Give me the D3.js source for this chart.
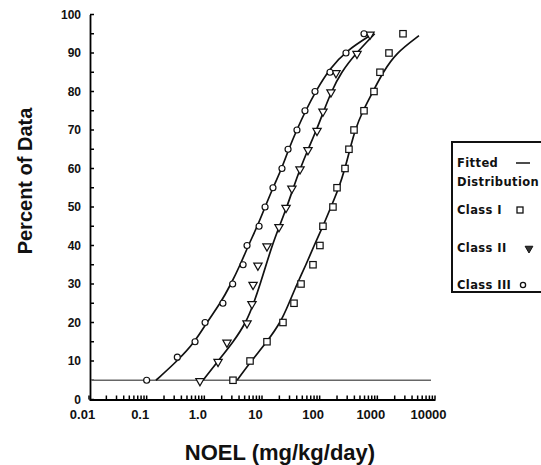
<html lang="en">
<head>
    <meta charset="UTF-8">
    <title>NOEL distribution</title>
    <script src="https://d3js.org/d3.v7.min.js"></script>
    <style>
        body { margin: 0; background: #fff; }
        svg { font-family: "DejaVu Sans", sans-serif; }
    </style>
</head>
<body>
    <script>
        // decade labels on the log axis
        const xTickValues = [0.01, 0.1, 1, 10, 100, 1000, 10000];
        const xTickLabels = ["0.01", "0.1", "1.0", "10", "100", "1000", "10000"];
        const yTickValues = [0, 10, 20, 30, 40, 50, 60, 70, 80, 90, 100];

        // observed points [dose, percent]
        const class1Points = [[3.14, 5], [6.2, 10], [12.2, 15], [23.1, 20], [35.9, 25], [47.5, 30], [76.6, 35], [101, 40], [114, 45], [170, 50], [200, 55], [275, 60], [322, 65], [394, 70], [587, 75], [875, 80], [1111, 85], [1592, 90], [2786, 95]];
        const class2Points = [[0.84, 5], [1.73, 10], [2.47, 15], [5.5, 20], [6.7, 25], [7.0, 30], [8.5, 35], [12.2, 40], [19.7, 45], [26.1, 50], [33, 55], [45.6, 60], [62.7, 65], [90, 70], [114, 75], [157, 80], [192, 85], [444, 90], [746, 95]];
        const class3Points = [[0.10, 5], [0.34, 11], [0.69, 15], [1.03, 20], [2.1, 25], [3.1, 30], [4.7, 35], [5.5, 40], [8.9, 45], [11.3, 50], [15.5, 55], [22.2, 60], [28.3, 65], [40.4, 70], [55.6, 75], [83, 80], [151, 85], [286, 90], [587, 95]];

        // fitted curves [dose, percent]
        const class1Fit = [[3.7, 5], [6.5, 10], [12.2, 15], [21, 20], [29.4, 25], [40.4, 30], [58, 35], [80, 40], [114, 45], [157, 50], [216, 55], [275, 60], [335, 65], [410, 70], [560, 75], [841, 80], [1253, 85], [2105, 90], [5270, 94.5]];
        const class2Fit = [[0.95, 5], [1.73, 10], [3.2, 15], [5.3, 20], [7.2, 25], [9.3, 30], [11.8, 35], [15, 40], [20, 45], [27, 50], [35, 55], [46, 60], [63, 65], [88, 70], [118, 75], [160, 80], [235, 85], [430, 90], [900, 95]];
        const class3Fit = [[0.145, 5], [0.34, 10], [0.69, 15], [1.1, 20], [1.9, 25], [2.9, 30], [4.2, 35], [5.8, 40], [8.3, 45], [11.3, 50], [15.5, 55], [22, 60], [29, 65], [40, 70], [57, 75], [85, 80], [150, 86], [290, 90.6], [840, 95]];

        const cutoffPercent = 5;

        const width = 541, height = 465;

        const x = d3.scaleLog()
            .domain([0.01, 10000])
            .range([89, 435]);

        const y = d3.scaleLinear()
            .domain([0, 100])
            .range([399.5, 14.5]);

        const svg = d3.select("body")
            .append("svg")
            .attr("width", width)
            .attr("height", height);

        // minor ticks on the log axis, pointing up
        svg.append("g")
            .attr("stroke", "#000")
            .attr("stroke-width", 1.5)
            .selectAll("line")
            .data(x.ticks())
            .join("line")
            .attr("x1", d => x(d))
            .attr("x2", d => x(d))
            .attr("y1", y(0))
            .attr("y2", y(0) - 4);

        // y ticks every 5, pointing right
        svg.append("g")
            .attr("stroke", "#000")
            .attr("stroke-width", 1.5)
            .selectAll("line")
            .data(y.ticks(20))
            .join("line")
            .attr("x1", 90)
            .attr("x2", 94)
            .attr("y1", d => y(d))
            .attr("y2", d => y(d));

        // x axis labels at the decades
        const xAxis = svg.append("g")
            .attr("transform", `translate(0,${y(0)})`)
            .call(d3.axisBottom(x)
                .tickValues(xTickValues)
                .tickSize(0)
                .tickPadding(10)
                .tickFormat((d, i) => xTickLabels[i]));
        xAxis.select(".domain").attr("stroke-width", 1.8);
        xAxis.selectAll(".tick text")
            .attr("dx", -7)
            .style("font-size", "13px")
            .style("font-weight", "bold")
            .attr("fill", "#111");

        const yAxis = svg.append("g")
            .attr("transform", "translate(90,0)")
            .call(d3.axisLeft(y)
                .tickValues(yTickValues)
                .tickSize(0)
                .tickPadding(9));
        yAxis.select(".domain").attr("stroke-width", 1.8);
        yAxis.selectAll(".tick text")
            .style("font-size", "12px")
            .style("font-weight", "bold")
            .attr("fill", "#111");

        // 5 percent cut-off line
        svg.append("line")
            .attr("x1", 91)
            .attr("x2", 431)
            .attr("y1", y(cutoffPercent))
            .attr("y2", y(cutoffPercent))
            .attr("stroke", "#666")
            .attr("stroke-width", 1.4);

        // fitted curves
        const line = d3.line()
            .x(d => x(d[0]))
            .y(d => y(d[1]))
            .curve(d3.curveBasis);

        svg.append("g")
            .selectAll("path")
            .data([class1Fit, class2Fit, class3Fit])
            .join("path")
            .attr("d", line)
            .attr("fill", "none")
            .attr("stroke", "#111")
            .attr("stroke-width", 1.7);

        // markers
        const marks = svg.append("g")
            .attr("fill", "#fff")
            .attr("stroke", "#111")
            .attr("stroke-width", 1.2);

        marks.selectAll(".sq")
            .data(class1Points)
            .join("rect")
            .attr("x", d => x(d[0]) - 3.2)
            .attr("y", d => y(d[1]) - 3.2)
            .attr("width", 6.4)
            .attr("height", 6.4);

        marks.selectAll(".tri")
            .data(class2Points)
            .join("path")
            .attr("d", d3.symbol(d3.symbolTriangle, 30))
            .attr("transform", d => `translate(${x(d[0])},${y(d[1]) + 0.8}) rotate(180)`);

        marks.selectAll(".circ")
            .data(class3Points)
            .join("circle")
            .attr("cx", d => x(d[0]))
            .attr("cy", d => y(d[1]))
            .attr("r", 3);

        // axis titles
        svg.append("text")
            .attr("x", 280)
            .attr("y", 460)
            .attr("text-anchor", "middle")
            .style("font-family", "'Liberation Sans', Arial, sans-serif")
            .style("font-size", "22px")
            .style("font-weight", "bold")
            .attr("fill", "#111")
            .text("NOEL (mg/kg/day)");

        svg.append("text")
            .attr("transform", "translate(32,181) rotate(-90)")
            .attr("text-anchor", "middle")
            .style("font-family", "'Liberation Sans', Arial, sans-serif")
            .style("font-size", "20px")
            .style("font-weight", "bold")
            .attr("fill", "#111")
            .text("Percent of Data");

        // legend
        const legend = svg.append("g")
            .style("font-size", "11.5px")
            .style("font-weight", "bold")
            .style("letter-spacing", "0.4px")
            .attr("fill", "#111");

        legend.append("rect")
            .attr("x", 452)
            .attr("y", 142)
            .attr("width", 120)
            .attr("height", 150)
            .attr("fill", "none")
            .attr("stroke", "#111")
            .attr("stroke-width", 2);

        legend.append("text").attr("x", 457).attr("y", 167).text("Fitted");
        legend.append("line")
            .attr("x1", 516).attr("x2", 530)
            .attr("y1", 163).attr("y2", 163)
            .attr("stroke", "#111").attr("stroke-width", 1.5);
        legend.append("text").attr("x", 457).attr("y", 186).text("Distribution");

        legend.append("text").attr("x", 457).attr("y", 214).text("Class I");
        legend.append("rect")
            .attr("x", 517).attr("y", 207).attr("width", 6).attr("height", 6)
            .attr("fill", "#fff").attr("stroke", "#111").attr("stroke-width", 1.3);

        legend.append("text").attr("x", 457).attr("y", 252).text("Class II");
        legend.append("path")
            .attr("d", d3.symbol(d3.symbolTriangle, 26))
            .attr("transform", "translate(529,248.5) rotate(180)")
            .attr("fill", "#333").attr("stroke", "#111").attr("stroke-width", 1);

        legend.append("text").attr("x", 457).attr("y", 289).text("Class III");
        legend.append("circle")
            .attr("cx", 523).attr("cy", 285).attr("r", 2.6)
            .attr("fill", "#fff").attr("stroke", "#111").attr("stroke-width", 1.3);
    </script>
</body>
</html>
